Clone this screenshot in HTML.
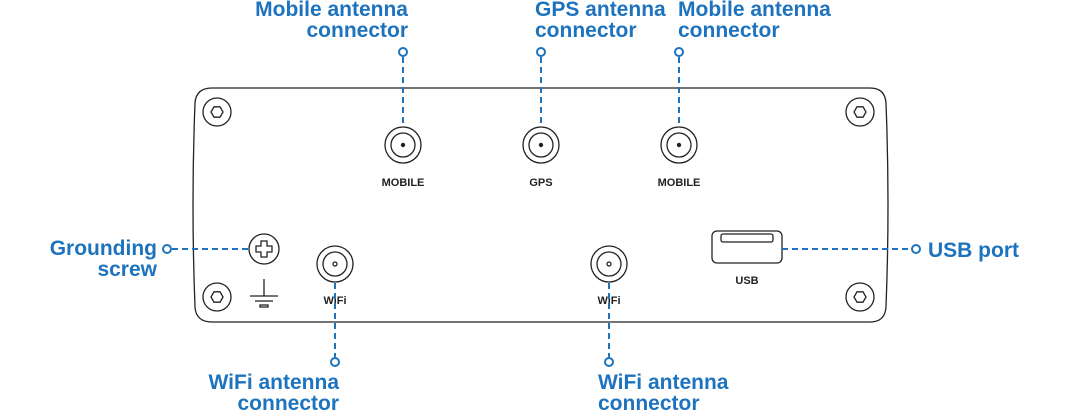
<!DOCTYPE html>
<html><head><meta charset="utf-8"><style>
html,body{margin:0;padding:0;background:#fff;}
svg{display:block;}
.t{font-family:"Liberation Sans",sans-serif;font-weight:bold;font-size:21px;fill:#1e73be;}
.s{font-family:"Liberation Sans",sans-serif;font-weight:bold;font-size:11px;fill:#222;}
.d{stroke:#1e73be;stroke-width:2;stroke-dasharray:6,4;fill:none;}
.c{stroke:#1e73be;stroke-width:2;fill:#fff;}
.k{stroke:#222;stroke-width:1.3;fill:none;}
</style></head><body>
<svg width="1084" height="411" viewBox="0 0 1084 411">
<path class="k" d="M212 88 L870 88 Q885 88 886 103 Q890 205 886 307 Q885 322 870 322 L212 322 Q196 322 195 307 Q191 205 195 103 Q196 88 212 88 Z"/>
<g class="k">
<circle cx="217" cy="112" r="14"/><polygon points="223,112 220,117.2 214,117.2 211,112 214,106.8 220,106.8"/>
<circle cx="860" cy="112" r="14"/><polygon points="866,112 863,117.2 857,117.2 854,112 857,106.8 863,106.8"/>
<circle cx="217" cy="297" r="14"/><polygon points="223,297 220,302.2 214,302.2 211,297 214,291.8 220,291.8"/>
<circle cx="860" cy="297" r="14"/><polygon points="866,297 863,302.2 857,302.2 854,297 857,291.8 863,291.8"/>
<circle cx="403" cy="145" r="18"/><circle cx="403" cy="145" r="12"/>
<circle cx="541" cy="145" r="18"/><circle cx="541" cy="145" r="12"/>
<circle cx="679" cy="145" r="18"/><circle cx="679" cy="145" r="12"/>
<circle cx="335" cy="264" r="18"/><circle cx="335" cy="264" r="12"/><circle cx="335" cy="264" r="2"/>
<circle cx="609" cy="264" r="18"/><circle cx="609" cy="264" r="12"/><circle cx="609" cy="264" r="2"/>
<circle cx="264" cy="249" r="15"/>
<path d="M261 241 h6 v5 h5 v6 h-5 v5 h-6 v-5 h-5 v-6 h5 z"/>
<path d="M264 279 v17 M250 296 h28 M255 301 h18 M260 305 h8 v2 h-8 z"/>
<rect x="712" y="231" width="70" height="32" rx="5"/>
<rect x="721" y="234" width="52" height="8" rx="2"/>
</g>
<circle cx="403" cy="145" r="2.2" fill="#222"/>
<circle cx="541" cy="145" r="2.2" fill="#222"/>
<circle cx="679" cy="145" r="2.2" fill="#222"/>
<text class="s" x="403" y="186" text-anchor="middle">MOBILE</text>
<text class="s" x="541" y="186" text-anchor="middle">GPS</text>
<text class="s" x="679" y="186" text-anchor="middle">MOBILE</text>
<text class="s" x="335" y="304" text-anchor="middle">WiFi</text>
<text class="s" x="609" y="304" text-anchor="middle">WiFi</text>
<text class="s" x="747" y="284" text-anchor="middle">USB</text>
<line class="d" x1="403" y1="57" x2="403" y2="127"/>
<line class="d" x1="541" y1="57" x2="541" y2="127"/>
<line class="d" x1="679" y1="57" x2="679" y2="127"/>
<line class="d" x1="172" y1="249" x2="249" y2="249"/>
<line class="d" x1="782" y1="249" x2="911" y2="249"/>
<line class="d" x1="335" y1="283" x2="335" y2="357"/>
<line class="d" x1="609" y1="283" x2="609" y2="357"/>
<circle class="c" cx="403" cy="52" r="4"/>
<circle class="c" cx="541" cy="52" r="4"/>
<circle class="c" cx="679" cy="52" r="4"/>
<circle class="c" cx="167" cy="249" r="4"/>
<circle class="c" cx="916" cy="249" r="4"/>
<circle class="c" cx="335" cy="362" r="4"/>
<circle class="c" cx="609" cy="362" r="4"/>
<text class="t" x="408" y="16" text-anchor="end">Mobile antenna</text>
<text class="t" x="408" y="37" text-anchor="end">connector</text>
<text class="t" x="535" y="16">GPS antenna</text>
<text class="t" x="535" y="37">connector</text>
<text class="t" x="678" y="16">Mobile antenna</text>
<text class="t" x="678" y="37">connector</text>
<text class="t" x="157" y="255" text-anchor="end">Grounding</text>
<text class="t" x="157" y="276" text-anchor="end">screw</text>
<text class="t" x="928" y="257">USB port</text>
<text class="t" x="339" y="389" text-anchor="end">WiFi antenna</text>
<text class="t" x="339" y="410" text-anchor="end">connector</text>
<text class="t" x="598" y="389">WiFi antenna</text>
<text class="t" x="598" y="410">connector</text>
</svg>
</body></html>
